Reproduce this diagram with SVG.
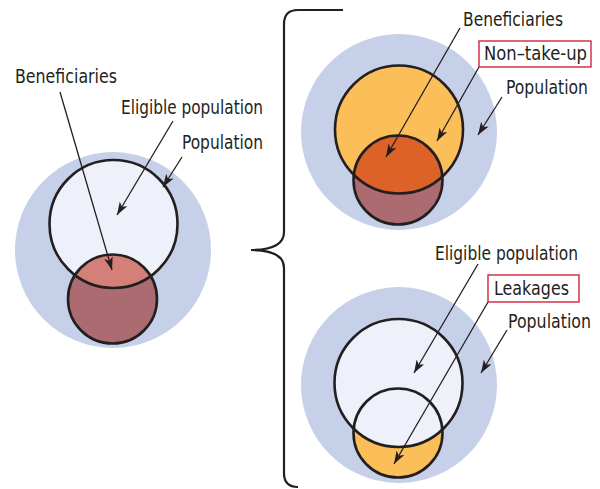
<svg xmlns="http://www.w3.org/2000/svg" width="600" height="489" viewBox="0 0 600 489">
<style>
.pop{fill:#c6d0e8}
.ol{fill:none;stroke:#231f20;stroke-width:2.6}
.lbl{font-family:"DejaVu Sans Condensed","DejaVu Sans","Liberation Sans",sans-serif;font-stretch:condensed;font-size:20px;fill:#231f20}
.arr{fill:none;stroke:#231f20;stroke-width:1.3;marker-end:url(#ah)}
.box{fill:#fff;stroke:#d0243b;stroke-width:1.4}
.brace{fill:none;stroke:#231f20;stroke-width:2.2}
</style>
<defs>
<marker id="ah" viewBox="0 0 13 9" refX="13" refY="4.5" markerWidth="13" markerHeight="9" markerUnits="userSpaceOnUse" orient="auto">
<path d="M0,0 L13,4.5 L0,9 L3.5,4.5 Z" fill="#231f20"/>
</marker>
<clipPath id="cL"><circle cx="113.5" cy="224" r="64"/></clipPath>
<clipPath id="cT"><circle cx="399" cy="129.5" r="64"/></clipPath>
<clipPath id="cB"><circle cx="398.5" cy="383" r="64"/></clipPath>
</defs>

<g id="left-diagram">
<circle class="pop" cx="113" cy="250" r="98"/>
<circle cx="113.5" cy="224" r="64" fill="#eef1f9"/>
<circle cx="112.5" cy="299" r="44.5" fill="#ac6b70"/>
<circle cx="112.5" cy="299" r="44.5" fill="#d47f77" clip-path="url(#cL)"/>
<circle class="ol" cx="113.5" cy="224" r="64"/>
<circle class="ol" cx="112.5" cy="299" r="44.5"/>
</g>

<g id="top-diagram">
<circle class="pop" cx="399" cy="132" r="98"/>
<circle cx="399" cy="129.5" r="64" fill="#fbbe58"/>
<circle cx="398" cy="180" r="44.5" fill="#ac6b70"/>
<circle cx="398" cy="180" r="44.5" fill="#dc6228" clip-path="url(#cT)"/>
<circle class="ol" cx="399" cy="129.5" r="64"/>
<circle class="ol" cx="398" cy="180" r="44.5"/>
</g>

<g id="bottom-diagram">
<circle class="pop" cx="399" cy="385" r="98"/>
<circle cx="398.5" cy="383" r="64" fill="#eef1f9"/>
<circle cx="398" cy="433" r="44.5" fill="#fbbe58"/>
<circle cx="398" cy="433" r="44.5" fill="#eef1f9" clip-path="url(#cB)"/>
<circle class="ol" cx="398.5" cy="383" r="64"/>
<circle class="ol" cx="398" cy="433" r="44.5"/>
</g>

<g id="brace">
<path class="brace" d="M343,10 H298 Q284,10 284,24 V232 C284,245 270,250 251,250 C270,250 284,255 284,268 V473 Q284,487 298,487"/>
</g>

<g id="connectors">
<line class="arr" x1="60" y1="92" x2="112" y2="270"/>
<line class="arr" x1="173" y1="121" x2="117" y2="215"/>
<line class="arr" x1="182" y1="157" x2="163" y2="187"/>
<line class="arr" x1="460" y1="28" x2="386" y2="157"/>
<line class="arr" x1="479" y1="67" x2="437" y2="141"/>
<line class="arr" x1="502" y1="97" x2="478" y2="135"/>
<line class="arr" x1="478" y1="264" x2="414" y2="373"/>
<line class="arr" x1="488" y1="302" x2="394" y2="464"/>
<line class="arr" x1="507" y1="330" x2="481" y2="373"/>
</g>

<g id="labels">
<text class="lbl" transform="translate(15,82.5) scale(0.88,1)" textLength="115.9" lengthAdjust="spacingAndGlyphs">Beneficiaries</text>
<text class="lbl" transform="translate(121,113.5) scale(0.88,1)" textLength="161.4" lengthAdjust="spacingAndGlyphs">Eligible population</text>
<text class="lbl" transform="translate(182,149) scale(0.88,1)" textLength="92" lengthAdjust="spacingAndGlyphs">Population</text>
<text class="lbl" transform="translate(463,26) scale(0.88,1)" textLength="113.6" lengthAdjust="spacingAndGlyphs">Beneficiaries</text>
<g id="non-take-up">
<rect class="box" x="479" y="41" width="112" height="26"/>
<text class="lbl" transform="translate(484,60) scale(0.88,1)" textLength="117" lengthAdjust="spacingAndGlyphs">Non–take-up</text>
</g>
<text class="lbl" transform="translate(506,94) scale(0.88,1)" textLength="93.2" lengthAdjust="spacingAndGlyphs">Population</text>
<text class="lbl" transform="translate(435,259.5) scale(0.88,1)" textLength="162.5" lengthAdjust="spacingAndGlyphs">Eligible population</text>
<g id="leakages">
<rect class="box" x="488" y="275" width="91" height="27"/>
<text class="lbl" transform="translate(494,294.5) scale(0.88,1)" textLength="85.2" lengthAdjust="spacingAndGlyphs">Leakages</text>
</g>
<text class="lbl" transform="translate(508,327.5) scale(0.88,1)" textLength="94.3" lengthAdjust="spacingAndGlyphs">Population</text>
</g>
</svg>
